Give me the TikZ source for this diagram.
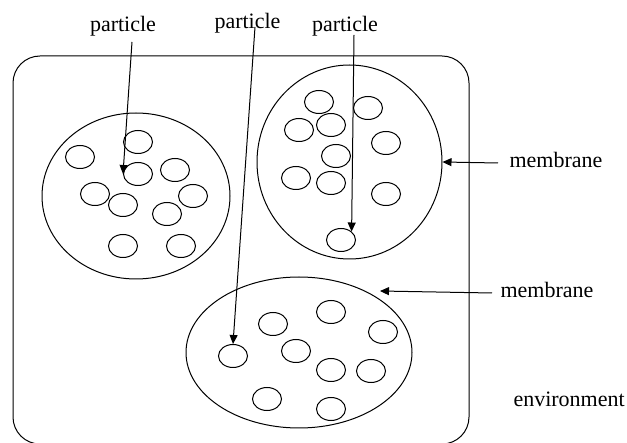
\documentclass[tikz,border=0pt]{standalone}
\usepackage{fontspec}
\setmainfont{Liberation Serif}
\usetikzlibrary{shapes.geometric,arrows.meta}
\begin{document}
\begin{tikzpicture}[x=1pt,y=-1pt,
  line width=1pt,
  part/.style={draw,ellipse,minimum width=29pt,minimum height=23pt,inner sep=0pt},
  memb/.style={draw,ellipse,inner sep=0pt},
  lbl/.style={inner sep=0pt,font=\fontsize{22}{26}\selectfont},
  arr/.style={-{Triangle[length=9pt,width=8pt]}}]
\useasboundingbox (0,0) rectangle (627,443);
% environment
\node[draw,rounded corners=27pt,minimum width=456pt,minimum height=388pt,inner sep=0pt] (env) at (241,250) {};
% membranes
\node[memb,minimum width=188pt,minimum height=166pt] (ml) at (136,196) {};
\node[memb,minimum width=185pt,minimum height=194pt] (mr) at (349.5,162) {};
\node[memb,minimum width=226pt,minimum height=151pt] (mb) at (299,352.5) {};
% particles
\foreach \n/\x/\y in {1/80/157,2/138/142,3/138/174,4/175/170,5/95/194,6/123/205,7/193/196,8/167/214,9/123/246,10/181/246}
  \node[part] (lp\n) at (\x,\y) {};
\foreach \n/\x/\y in {1/319/102,2/368/108,3/299/130,4/331/125,5/386/143,6/336/156,7/296/178,8/331/183,9/386/194,10/341/240}
  \node[part] (rp\n) at (\x,\y) {};
\foreach \n/\x/\y in {1/273/324,2/331/312,3/383/332,4/233/356,5/296/351,6/331/370,7/371/371,8/267/399,9/331/409}
  \node[part] (bp\n) at (\x,\y) {};
% labels
\node[lbl,anchor=base] (t1) at (123,32) {particle};
\node[lbl,anchor=base] (t2) at (247.5,29) {particle};
\node[lbl,anchor=base] (t3) at (345,32) {particle};
\node[lbl,anchor=base west] (m1) at (509,168) {membrane};
\node[lbl,anchor=base west] (m2) at (500,298) {membrane};
\node[lbl,anchor=base west] (e1) at (513,407) {environment};
% arrows
\coordinate (s1) at (132,42);
\coordinate (s2) at (255,27);
\coordinate (s3) at (354,35);
\draw[arr] (s1) -- (lp3.west);
\draw[arr] (s2) -- (bp4.north);
\draw[arr] (s3) -- (rp10.north east);
\coordinate (s4) at (498,163);
\draw[arr] (s4) -- (mr.east);
\coordinate (s5) at (492,293);
\coordinate (e5) at (380,291);
\draw[arr] (s5) -- (e5);
\end{tikzpicture}
\end{document}
